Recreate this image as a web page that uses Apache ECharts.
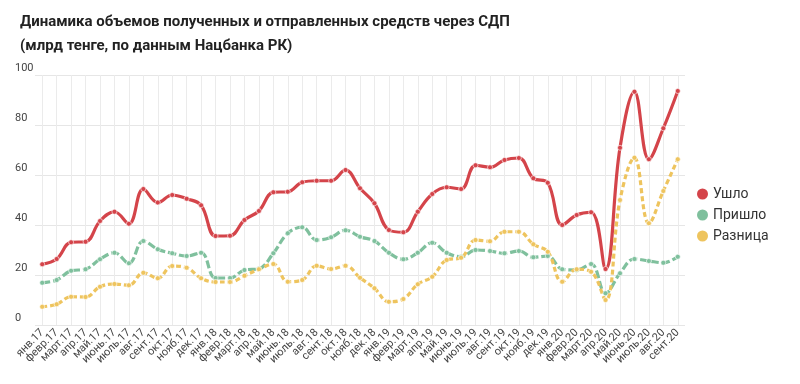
<!DOCTYPE html>
<html>
<head>
<meta charset="utf-8">
<script src="https://cdn.jsdelivr.net/npm/echarts@6/dist/echarts.min.js"></script>
<style>
html,body{margin:0;padding:0;background:#fff;}
#chart{width:800px;height:384px;}
</style>
</head>
<body>
<div id="chart"></div>
<script>
const titleText = 'Динамика объемов полученных и отправленных средств через СДП\n(млрд тенге, по данным Нацбанка РК)';
const categories = [
  'янв.17','февр.17','март.17','апр.17','май.17','июнь.17','июль.17','авг.17','сент.17','окт.17','нояб.17','дек.17',
  'янв.18','февр.18','март.18','апр.18','май.18','июнь.18','июль.18','авг.18','сент.18','окт.18','нояб.18','дек.18',
  'янв.19','февр.19','март.19','апр.19','май.19','июнь.19','июль.19','авг.19','сент.19','окт.19','нояб.19','дек.19',
  'янв.20','февр.20','март.20','апр.20','май.20','июнь.20','июль.20','авг.20','сент.20'
];
const seriesNames = ['Ушло', 'Пришло', 'Разница'];
const outflow = [
  24.3, 26.4, 33.1, 33.3, 41.6, 45.3, 40.5, 54.4, 49.0, 52.0, 50.5, 47.9,
  35.6, 35.7, 42.0, 45.6, 53.1, 53.3, 57.1, 57.7, 57.7, 62.0, 54.7, 48.7,
  38.0, 37.1, 45.3, 52.4, 55.1, 54.4, 63.9, 63.1, 66.0, 66.8, 58.7, 56.9,
  40.0, 44.0, 45.1, 22.4, 70.9, 93.3, 66.3, 78.7, 93.6
];
const inflow = [
  16.9, 18.0, 21.7, 22.3, 26.3, 28.9, 24.7, 33.6, 30.3, 28.7, 27.6, 28.9,
  18.8, 18.8, 22.0, 22.5, 28.7, 36.7, 39.1, 34.0, 35.1, 37.9, 35.3, 33.6,
  28.9, 26.3, 28.9, 32.9, 28.9, 27.3, 30.0, 29.6, 28.7, 29.6, 27.1, 27.6,
  22.3, 22.0, 24.4, 12.7, 20.7, 26.4, 25.6, 24.9, 27.3
];
const difference = [
  7.3, 8.3, 11.3, 11.2, 15.3, 16.4, 15.9, 20.9, 18.7, 23.6, 22.9, 18.7,
  17.2, 17.2, 19.7, 22.3, 24.4, 17.3, 18.0, 23.7, 22.4, 23.7, 18.9, 14.7,
  9.3, 10.4, 16.3, 19.3, 26.0, 26.9, 34.0, 33.5, 37.3, 37.3, 32.3, 29.3,
  17.3, 22.3, 21.3, 10.0, 50.0, 66.9, 40.7, 53.6, 66.3
];
const yTicks = [0, 20, 40, 60, 80, 100];

const colors = ['#d4444a', '#7fc09d', '#eec45e'];
const FONT = 'Roboto, "Noto Sans", sans-serif';

function mkSeries(name, data, color, dash) {
  return {
    name: name,
    type: 'line',
    data: data,
    smooth: 0.4,
    symbol: 'circle',
    symbolSize: 5,
    showSymbol: true,
    itemStyle: { color: color, borderColor: 'rgba(255,255,255,0.6)', borderWidth: 1 },
    lineStyle: { color: color, width: 3.2, type: dash },
    emphasis: { disabled: true }
  };
}

const chart = echarts.init(document.getElementById('chart'), null, { renderer: 'canvas' });
chart.setOption({
  animation: false,
  backgroundColor: '#fff',
  title: {
    text: titleText,
    left: 15,
    top: 5,
    textStyle: { fontFamily: FONT, fontSize: 15, fontWeight: 'bold', color: '#222', lineHeight: 24 }
  },
  legend: {
    data: seriesNames,
    orient: 'vertical',
    left: 692,
    top: 182,
    icon: 'circle',
    itemWidth: 11,
    itemHeight: 11,
    itemGap: 7,
    itemStyle: { borderWidth: 0 },
    textStyle: { fontFamily: FONT, fontSize: 14, color: '#333' }
  },
  grid: { left: 35, right: 115, top: 75, bottom: 59, containLabel: false },
  xAxis: {
    type: 'category',
    data: categories,
    boundaryGap: true,
    axisLine: { show: false },
    axisTick: { show: false },
    splitLine: { show: true, interval: 0, alignWithLabel: true, lineStyle: { color: '#ebebeb', width: 1 } },
    axisLabel: { interval: 0, rotate: 45, fontFamily: FONT, fontSize: 11, color: '#444', margin: 6 }
  },
  yAxis: {
    type: 'value',
    min: yTicks[0],
    max: yTicks[yTicks.length - 1],
    interval: 20,
    axisLine: { show: false },
    axisTick: { show: false },
    splitLine: { lineStyle: { color: '#e6e6e6', width: 1 } },
    axisLabel: { align: 'left', verticalAlign: 'bottom', margin: 20, fontFamily: FONT, fontSize: 11, color: '#444', padding: [0, 0, 1, 0] }
  },
  series: [
    mkSeries(seriesNames[0], outflow, colors[0], 'solid'),
    mkSeries(seriesNames[1], inflow, colors[1], [8, 3]),
    mkSeries(seriesNames[2], difference, colors[2], [5, 3])
  ]
});
</script>
</body>
</html>
